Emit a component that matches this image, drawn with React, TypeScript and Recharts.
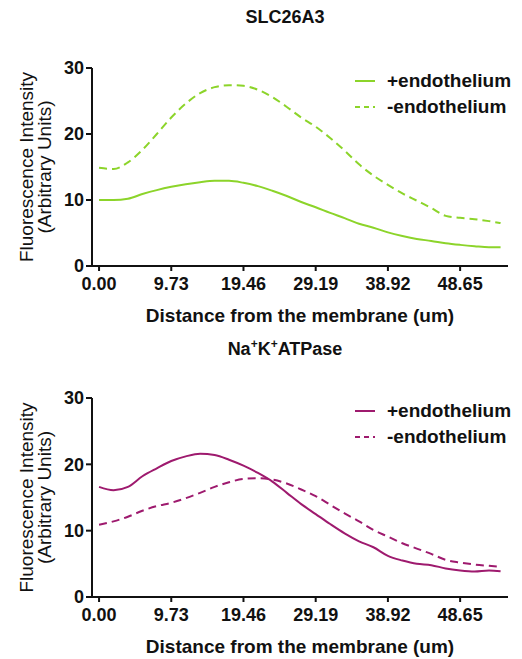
import React from "react";
import { LineChart, Line, XAxis, YAxis, Label } from "recharts";

// distance from the membrane (um)
const distance = [
  0, 1.95, 3.89, 5.84, 7.78, 9.73, 11.68, 13.62, 15.57, 17.51, 19.46, 21.41, 23.35, 25.3, 27.24,
  29.19, 31.14, 33.08, 35.03, 36.97, 38.92, 40.87, 42.81, 44.76, 46.7, 48.65, 50.6, 52.54, 54.1,
];

const slcPlus = [
  10.0, 10.0, 10.2, 10.9, 11.5, 12.0, 12.4, 12.7, 12.9, 12.9, 12.6, 12.1, 11.4, 10.6, 9.7, 8.9,
  8.05, 7.25, 6.4, 5.8, 5.1, 4.55, 4.1, 3.8, 3.45, 3.2, 3.0, 2.85, 2.85,
];
const slcMinus = [
  14.9, 14.7, 15.7, 17.6, 20.0, 22.5, 24.6, 26.2, 27.1, 27.4, 27.3, 26.7, 25.6, 24.1, 22.5, 21.1,
  19.4, 17.5, 15.4, 13.7, 12.3, 11.0, 9.9, 8.8, 7.6, 7.3, 7.1, 6.8, 6.5,
];
const nakPlus = [
  16.6, 16.1, 16.6, 18.2, 19.4, 20.5, 21.2, 21.6, 21.4, 20.7, 19.8, 18.7, 17.4, 15.7, 14.0, 12.5,
  11.0, 9.6, 8.4, 7.5, 6.2, 5.5, 5.0, 4.8, 4.3, 4.0, 3.85, 4.0, 3.9,
];
const nakMinus = [
  10.9, 11.4, 12.1, 13.0, 13.7, 14.2, 14.9, 15.7, 16.6, 17.3, 17.8, 17.9, 17.7, 17.1, 16.2, 15.2,
  13.9, 12.6, 11.4, 10.1, 9.1, 8.1, 7.3, 6.5, 5.6, 5.2, 4.9, 4.7, 4.55,
];

const xTicks = [0, 9.73, 19.46, 29.19, 38.92, 48.65];
const yTicks = [0, 10, 20, 30];
const seriesNames = ["+endothelium", "-endothelium"];

const FONT = "'Liberation Sans', Arial, sans-serif";

function YLabel(props: any) {
  const vb = props.viewBox;
  const cy = vb.y + vb.height / 2;
  const style = { fontFamily: FONT, fontSize: 19, fill: "#111" };
  return (
    <g>
      <text x={26} y={cy} transform={`rotate(-90, 26, ${cy})`} textAnchor="middle" dominantBaseline="central" style={style}>
        Fluorescence Intensity
      </text>
      <text x={44} y={cy} transform={`rotate(-90, 44, ${cy})`} textAnchor="middle" dominantBaseline="central" style={style}>
        (Arbitrary Units)
      </text>
    </g>
  );
}

function Panel({ title, plus, minus, color, height, xAxisHeight }: any) {
  const data = distance.map((d, i) => ({ d, plus: plus[i], minus: minus[i] }));
  const tickStyle = { fontFamily: FONT, fontSize: 18, fontWeight: 700, fill: "#111" };
  return (
    <div style={{ position: "relative", width: 522, height }}>
      <div
        style={{
          position: "absolute",
          top: 7,
          left: 185,
          width: 200,
          textAlign: "center",
          fontFamily: FONT,
          fontWeight: 700,
          fontSize: 18,
          color: "#111",
        }}
      >
        {title}
      </div>
      <LineChart width={522} height={height} data={data} margin={{ top: 68, right: 14, bottom: 0, left: 32 }}>
        <XAxis
          dataKey="d"
          type="number"
          domain={[-0.95, 55.1]}
          ticks={xTicks}
          tickFormatter={(v: number) => v.toFixed(2)}
          height={xAxisHeight}
          stroke="#111"
          strokeWidth={2}
          tickSize={5}
          tickMargin={6}
          tick={tickStyle}
          interval={0}
        >
          <Label
            value="Distance from the membrane (um)"
            position="insideBottom"
            offset={xAxisHeight - 56}
            style={{ fontFamily: FONT, fontSize: 19, fontWeight: 700, fill: "#111" }}
          />
        </XAxis>
        <YAxis
          domain={[0, 30]}
          ticks={yTicks}
          width={60}
          stroke="#111"
          strokeWidth={2}
          tickSize={6}
          tick={tickStyle}
          interval={0}
        >
          <Label content={YLabel} />
        </YAxis>
        <Line type="monotone" dataKey="plus" stroke={color} strokeWidth={2} dot={false} isAnimationActive={false} />
        <Line
          type="monotone"
          dataKey="minus"
          stroke={color}
          strokeWidth={2}
          strokeDasharray="8 5"
          dot={false}
          isAnimationActive={false}
        />
      </LineChart>
      <div style={{ position: "absolute", top: 68, left: 353, fontFamily: FONT, fontWeight: 700, fontSize: 19, color: "#111" }}>
        {seriesNames.map((name, i) => (
          <div key={name} style={{ display: "flex", alignItems: "center", height: 26 }}>
            <svg width={24} height={10} style={{ marginRight: 10 }}>
              <line x1={2} y1={5} x2={22} y2={5} stroke={color} strokeWidth={2} strokeDasharray={i === 1 ? "5 4" : undefined} />
            </svg>
            <span>{name}</span>
          </div>
        ))}
      </div>
    </div>
  );
}

export default function App() {
  return (
    <div style={{ position: "absolute", left: 0, top: 0, width: 522, height: 659, background: "#fff" }}>
      <Panel title="SLC26A3" plus={slcPlus} minus={slcMinus} color="#8cd42a" height={330} xAxisHeight={64} />
      <Panel
        title={
          <span>
            Na<sup style={{ fontSize: 12 }}>+</sup>K<sup style={{ fontSize: 12 }}>+</sup>ATPase
          </span>
        }
        plus={nakPlus}
        minus={nakMinus}
        color="#9e1a6e"
        height={329}
        xAxisHeight={62}
      />
    </div>
  );
}
